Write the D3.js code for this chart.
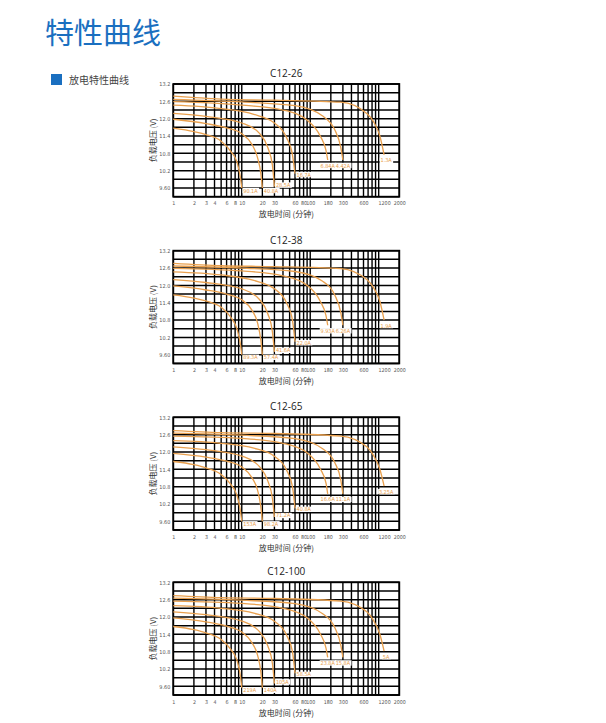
<!DOCTYPE html>
<html><head><meta charset="utf-8">
<script src="https://cdn.jsdelivr.net/npm/d3@7/dist/d3.min.js"></script>
<style>
html,body{margin:0;padding:0;background:#fff;}
svg{display:block;}
.cond{font-family:'DejaVu Sans Condensed','DejaVu Sans',sans-serif;font-stretch:condensed;}
</style></head>
<body>
<svg id="chart" width="606" height="723"></svg>
<script>
// ---------- data ----------
const chartNames = ["C12-26", "C12-38", "C12-65", "C12-100"];
const endTimes = [10, 20, 30, 60, 180, 300, 1200];
const currents26 = ["90.1A", "40.8A", "28.5A", "16.7A", "6.84A", "4.42A", "1.3A"];
const currents38 = ["89.3A", "57.4A", "41.6A", "22.0A", "9.93A", "6.26A", "1.9A"];
const currents65 = ["153A", "98.2A", "71.2A", "40.8A", "16.6A", "11.1A", "3.25A"];
const currents100 = ["219A", "140A", "105A", "58.5A", "23.8A", "15.8A", "5A"];
const xTicks = [1, 2, 3, 4, 6, 8, 10, 20, 30, 60, 80, 100, 180, 300, 600, 1200, 2000];
const yTicks = [13.2, 12.6, 12.0, 11.4, 10.8, 10.2, 9.6];
const yTickLabels = ["13.2", "12.6", "12.0", "11.4", "10.8", "10.2", "9.60"];

// discharge curves [minutes, volts]
const curves26 = [
  [[1,11.67],[2,11.55],[3,11.45],[5,11.22],[7,10.85],[8.5,10.5],[9.5,10.0],[10,9.6]],
  [[1,11.98],[3,11.83],[6,11.68],[10,11.48],[14,11.12],[17,10.65],[19,10.1],[20,9.6]],
  [[1,12.18],[3,12.08],[10,11.85],[18,11.5],[24,11.0],[28,10.4],[30,9.65]],
  [[1,12.47],[5,12.35],[15,12.15],[30,11.85],[45,11.35],[55,10.75],[60,10.1]],
  [[1,12.59],[10,12.47],[40,12.3],[90,11.95],[140,11.4],[170,10.9],[180,10.57]],
  [[1,12.67],[10,12.58],[60,12.45],[150,12.1],[230,11.6],[280,11.0],[300,10.57]],
  [[1,12.78],[5,12.68],[30,12.64],[280,12.57],[670,12.18],[840,11.9],[1040,11.4],[1200,10.75]]
];
const curves38 = [
  [[1,11.67],[2,11.56],[3,11.46],[5,11.24],[7,10.88],[8.5,10.5],[9.5,10.0],[10,9.6]],
  [[1,11.98],[3,11.84],[6,11.7],[10,11.5],[14,11.15],[17,10.7],[19,10.1],[20,9.6]],
  [[1,12.2],[3,12.1],[10,11.88],[18,11.52],[24,11.02],[28,10.4],[30,9.7]],
  [[1,12.47],[5,12.36],[15,12.17],[30,11.88],[45,11.4],[55,10.8],[60,10.05]],
  [[1,12.59],[10,12.5],[40,12.33],[90,12.0],[140,11.45],[170,10.95],[180,10.62]],
  [[1,12.67],[10,12.6],[60,12.48],[150,12.15],[230,11.65],[280,11.05],[300,10.62]],
  [[1,12.76],[5,12.68],[30,12.65],[280,12.58],[670,12.2],[840,11.92],[1040,11.45],[1200,10.8]]
];
const curves65 = [
  [[1,11.67],[2,11.56],[3,11.45],[5,11.22],[7,10.86],[8.5,10.5],[9.5,10.0],[10,9.6]],
  [[1,11.95],[3,11.82],[6,11.68],[10,11.48],[14,11.12],[17,10.68],[19,10.1],[20,9.6]],
  [[1,12.18],[3,12.08],[10,11.86],[18,11.5],[24,11.0],[28,10.4],[30,9.75]],
  [[1,12.39],[5,12.3],[15,12.13],[30,11.85],[45,11.38],[55,10.8],[60,10.05]],
  [[1,12.55],[10,12.47],[40,12.3],[90,11.97],[140,11.42],[170,10.92],[180,10.55]],
  [[1,12.65],[10,12.58],[60,12.46],[150,12.12],[230,11.62],[280,11.02],[300,10.55]],
  [[1,12.74],[5,12.67],[30,12.64],[280,12.55],[670,12.18],[840,11.88],[1040,11.4],[1200,10.82]]
];
const curves100 = [
  [[1,11.67],[2,11.56],[3,11.45],[5,11.22],[7,10.86],[8.5,10.5],[9.5,10.0],[10,9.55]],
  [[1,11.97],[3,11.83],[6,11.68],[10,11.48],[14,11.12],[17,10.68],[19,10.1],[20,9.55]],
  [[1,12.18],[3,12.08],[10,11.86],[18,11.5],[24,11.0],[28,10.4],[30,9.7]],
  [[1,12.39],[5,12.3],[15,12.13],[30,11.85],[45,11.38],[55,10.8],[60,10.05]],
  [[1,12.55],[10,12.47],[40,12.3],[90,11.97],[140,11.42],[170,10.92],[180,10.6]],
  [[1,12.65],[10,12.58],[60,12.46],[150,12.12],[230,11.62],[280,11.02],[300,10.6]],
  [[1,12.74],[5,12.67],[30,12.64],[280,12.55],[670,12.18],[840,11.88],[1040,11.4],[1200,10.82]]
];

const allCurrents = [currents26, currents38, currents65, currents100];
const allCurves = [curves26, curves38, curves65, curves100];

// ---------- layout ----------
const svg = d3.select("#chart");
const blue = "#1a6fc0";
const orange = "#e9a04e";
const cjk = "'Noto Sans CJK SC','Noto Sans',sans-serif";

svg.append("text").attr("x", 45).attr("y", 44)
  .attr("font-family", cjk).attr("font-size", 29).attr("fill", blue)
  .text("特性曲线");
svg.append("rect").attr("x", 51).attr("y", 74).attr("width", 11).attr("height", 11).attr("fill", blue);
svg.append("text").attr("x", 69).attr("y", 83.5)
  .attr("font-family", cjk).attr("font-size", 10).attr("fill", "#444")
  .text("放电特性曲线");

const left = 173.3, right = 399.3, plotH = 112.7;
const tops = [84, 250.7, 417.3, 582.3];

const x = d3.scaleLog().domain([1, 2000]).range([left, right]);

const gridX = [];
for (let d = 1; d < 2000; d *= 10) for (let k = 1; k <= 9; k++) if (d * k < 2000) gridX.push(d * k);
gridX.push(2000);
const gridY = d3.range(0, 14).map(i => 9.3 + i * 0.3);

chartNames.forEach((name, ci) => {
  const top = tops[ci], bottom = top + plotH;
  const y = d3.scaleLinear().domain([9.3, 13.2]).range([bottom, top]);
  const g = svg.append("g");

  // title
  g.append("text").attr("x", (left + right) / 2).attr("y", top - 7)
    .attr("text-anchor", "middle").attr("font-family", "'Open Sans','Noto Sans',sans-serif")
    .attr("font-size", 10).attr("fill", "#222").text(name);

  // grid
  g.append("g").selectAll("line").data(gridX).join("line")
    .attr("x1", d => x(d)).attr("x2", d => x(d)).attr("y1", top).attr("y2", bottom)
    .attr("stroke", "#000").attr("stroke-width", 1.4);
  g.append("g").selectAll("line").data(gridY).join("line")
    .attr("x1", left).attr("x2", right).attr("y1", d => y(d)).attr("y2", d => y(d))
    .attr("stroke", "#000").attr("stroke-width", 1.5);
  g.append("rect").attr("x", left).attr("y", top).attr("width", right - left).attr("height", plotH)
    .attr("fill", "none").attr("stroke", "#000").attr("stroke-width", 1.8);

  // axes labels
  const xAxis = d3.axisBottom(x).tickValues(xTicks).tickFormat(d3.format("d")).tickSize(0).tickPadding(5);
  const xa = g.append("g").attr("transform", `translate(0,${bottom})`).call(xAxis);
  xa.select(".domain").remove();
  xa.attr("font-family", null).attr("font-size", null);
  xa.selectAll("text").attr("class", "cond").attr("font-size", 5.3).attr("fill", "#555");

  const yAxis = d3.axisLeft(y).tickValues(yTicks).tickFormat((d, i) => yTickLabels[i]).tickSize(0).tickPadding(3);
  const ya = g.append("g").attr("transform", `translate(${left},0)`).call(yAxis);
  ya.select(".domain").remove();
  ya.attr("font-family", null).attr("font-size", null);
  ya.selectAll("text").attr("class", "cond").attr("font-size", 5.5).attr("fill", "#555");

  g.append("text").attr("x", (left + right) / 2).attr("y", bottom + 20.5)
    .attr("text-anchor", "middle").attr("font-family", cjk).attr("font-size", 8).attr("fill", "#333")
    .text("放电时间 (分钟)");
  g.append("text").attr("transform", `translate(155.5,${top + plotH / 2}) rotate(-90)`)
    .attr("text-anchor", "middle").attr("font-family", cjk).attr("font-size", 8).attr("fill", "#333")
    .text("负载电压 (V)");

  // curves
  const line = d3.line().x(d => x(d[0])).y(d => y(d[1])).curve(d3.curveMonotoneX);
  g.append("g").selectAll("path").data(allCurves[ci]).join("path")
    .attr("d", line).attr("fill", "none").attr("stroke", orange).attr("stroke-width", 1.3);

  // labels with white background
  const lg = g.append("g");
  allCurves[ci].forEach((c, i) => {
    const end = c[c.length - 1];
    const ex = x(end[0]), ey = y(end[1]);
    const long = endTimes[i] >= 180;
    let tx = long ? ex + (endTimes[i] === 1200 ? 2 : 0) : ex + 1.5;
    let ty = long ? ey + 7.5 : ey + 4.5;
    if (endTimes[i] === 30) ty = ey + 0.5;
    if (endTimes[i] === 60) ty = ey + 3;
    const bg = lg.append("rect").attr("fill", "#fff");
    const t = lg.append("text").attr("x", tx).attr("y", ty)
      .attr("text-anchor", long ? "middle" : "start")
      .attr("class", "cond").attr("font-size", 5.5).attr("fill", orange)
      .text(allCurrents[ci][i]);
    const b = t.node().getBBox();
    bg.attr("x", b.x - 0.8).attr("y", b.y + 0.3).attr("width", b.width + 1.6).attr("height", b.height - 0.6);
  });
});
</script>
</body></html>
